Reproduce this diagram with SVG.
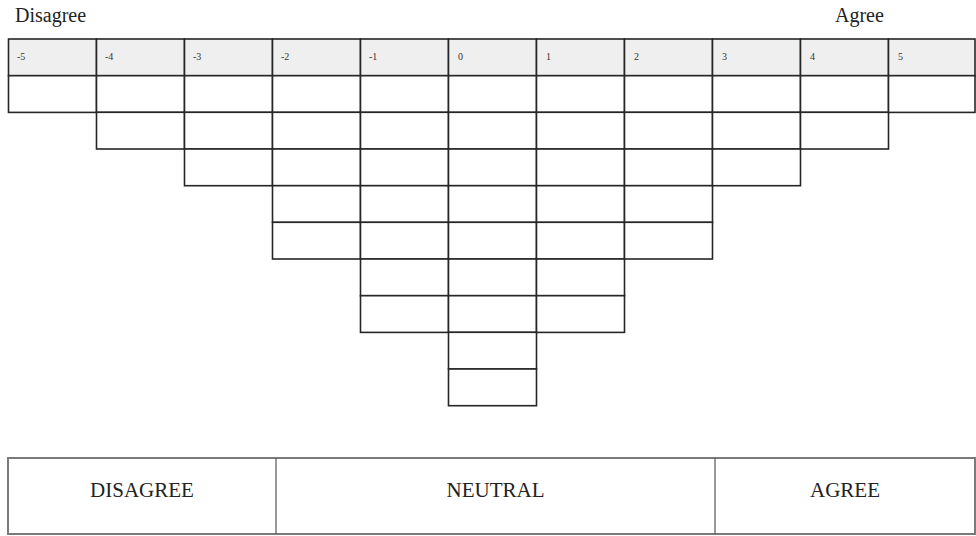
<svg xmlns="http://www.w3.org/2000/svg" width="976" height="536" viewBox="0 0 976 536">
<style>
.bg{fill:#ffffff}
.hd{fill:#efefef;stroke:#262626;stroke-width:1.6}
.c{fill:#ffffff;stroke:#262626;stroke-width:1.6}
.num{font-family:"Liberation Serif","Times New Roman",serif;font-size:10px;fill:#333}
.lbl{font-family:"Liberation Serif","Times New Roman",serif;font-size:20px;fill:#222}
.cat{font-family:"Liberation Serif","Times New Roman",serif;font-size:21px;fill:#222;text-anchor:middle}
.box{fill:#ffffff;stroke:#7a7a7a;stroke-width:2}
.div{stroke:#555;stroke-width:1.2}
</style>
<rect class="bg" x="0" y="0" width="976" height="536"/>
<text class="lbl" x="15" y="22">Disagree</text>
<text class="lbl" x="835" y="22">Agree</text>

<g id="col-m5">
<rect class="hd" x="8.5" y="39" width="88" height="36.7"/>
<text class="num" x="17" y="60">-5</text>
<rect class="c" x="8.5" y="75.7" width="88" height="36.7"/>
</g>
<g id="col-m4">
<rect class="hd" x="96.5" y="39" width="88" height="36.7"/>
<text class="num" x="105" y="60">-4</text>
<rect class="c" x="96.5" y="75.7" width="88" height="36.7"/>
<rect class="c" x="96.5" y="112.3" width="88" height="36.7"/>
</g>
<g id="col-m3">
<rect class="hd" x="184.5" y="39" width="88" height="36.7"/>
<text class="num" x="193" y="60">-3</text>
<rect class="c" x="184.5" y="75.7" width="88" height="36.7"/>
<rect class="c" x="184.5" y="112.3" width="88" height="36.7"/>
<rect class="c" x="184.5" y="149" width="88" height="36.7"/>
</g>
<g id="col-m2">
<rect class="hd" x="272.5" y="39" width="88" height="36.7"/>
<text class="num" x="281" y="60">-2</text>
<rect class="c" x="272.5" y="75.7" width="88" height="36.7"/>
<rect class="c" x="272.5" y="112.3" width="88" height="36.7"/>
<rect class="c" x="272.5" y="149" width="88" height="36.7"/>
<rect class="c" x="272.5" y="185.7" width="88" height="36.7"/>
<rect class="c" x="272.5" y="222.3" width="88" height="36.7"/>
</g>
<g id="col-m1">
<rect class="hd" x="360.5" y="39" width="88" height="36.7"/>
<text class="num" x="369" y="60">-1</text>
<rect class="c" x="360.5" y="75.7" width="88" height="36.7"/>
<rect class="c" x="360.5" y="112.3" width="88" height="36.7"/>
<rect class="c" x="360.5" y="149" width="88" height="36.7"/>
<rect class="c" x="360.5" y="185.7" width="88" height="36.7"/>
<rect class="c" x="360.5" y="222.3" width="88" height="36.7"/>
<rect class="c" x="360.5" y="259" width="88" height="36.7"/>
<rect class="c" x="360.5" y="295.7" width="88" height="36.7"/>
</g>
<g id="col-0">
<rect class="hd" x="448.5" y="39" width="88" height="36.7"/>
<text class="num" x="458" y="60">0</text>
<rect class="c" x="448.5" y="75.7" width="88" height="36.7"/>
<rect class="c" x="448.5" y="112.3" width="88" height="36.7"/>
<rect class="c" x="448.5" y="149" width="88" height="36.7"/>
<rect class="c" x="448.5" y="185.7" width="88" height="36.7"/>
<rect class="c" x="448.5" y="222.3" width="88" height="36.7"/>
<rect class="c" x="448.5" y="259" width="88" height="36.7"/>
<rect class="c" x="448.5" y="295.7" width="88" height="36.7"/>
<rect class="c" x="448.5" y="332.3" width="88" height="36.7"/>
<rect class="c" x="448.5" y="369" width="88" height="36.7"/>
</g>
<g id="col-p1">
<rect class="hd" x="536.5" y="39" width="88" height="36.7"/>
<text class="num" x="546" y="60">1</text>
<rect class="c" x="536.5" y="75.7" width="88" height="36.7"/>
<rect class="c" x="536.5" y="112.3" width="88" height="36.7"/>
<rect class="c" x="536.5" y="149" width="88" height="36.7"/>
<rect class="c" x="536.5" y="185.7" width="88" height="36.7"/>
<rect class="c" x="536.5" y="222.3" width="88" height="36.7"/>
<rect class="c" x="536.5" y="259" width="88" height="36.7"/>
<rect class="c" x="536.5" y="295.7" width="88" height="36.7"/>
</g>
<g id="col-p2">
<rect class="hd" x="624.5" y="39" width="88" height="36.7"/>
<text class="num" x="634" y="60">2</text>
<rect class="c" x="624.5" y="75.7" width="88" height="36.7"/>
<rect class="c" x="624.5" y="112.3" width="88" height="36.7"/>
<rect class="c" x="624.5" y="149" width="88" height="36.7"/>
<rect class="c" x="624.5" y="185.7" width="88" height="36.7"/>
<rect class="c" x="624.5" y="222.3" width="88" height="36.7"/>
</g>
<g id="col-p3">
<rect class="hd" x="712.5" y="39" width="88" height="36.7"/>
<text class="num" x="722" y="60">3</text>
<rect class="c" x="712.5" y="75.7" width="88" height="36.7"/>
<rect class="c" x="712.5" y="112.3" width="88" height="36.7"/>
<rect class="c" x="712.5" y="149" width="88" height="36.7"/>
</g>
<g id="col-p4">
<rect class="hd" x="800.5" y="39" width="88" height="36.7"/>
<text class="num" x="810" y="60">4</text>
<rect class="c" x="800.5" y="75.7" width="88" height="36.7"/>
<rect class="c" x="800.5" y="112.3" width="88" height="36.7"/>
</g>
<g id="col-p5">
<rect class="hd" x="888.5" y="39" width="86.5" height="36.7"/>
<text class="num" x="898" y="60">5</text>
<rect class="c" x="888.5" y="75.7" width="86.5" height="36.7"/>
</g>

<g id="scale">
<rect class="box" x="8" y="458" width="967" height="76"/>
<line class="div" x1="276" y1="458" x2="276" y2="534"/>
<line class="div" x1="715" y1="458" x2="715" y2="534"/>
<text class="cat" x="142" y="497">DISAGREE</text>
<text class="cat" x="495.5" y="497">NEUTRAL</text>
<text class="cat" x="845" y="497">AGREE</text>
</g>
</svg>
